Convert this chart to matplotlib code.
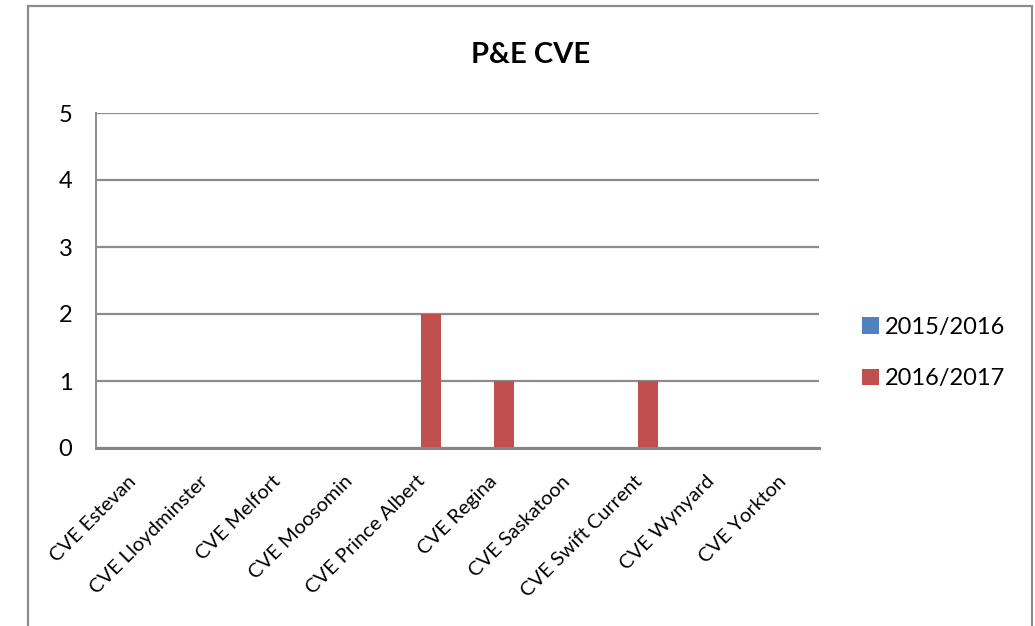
import matplotlib
matplotlib.use("Agg")
import matplotlib.pyplot as plt
import numpy as np
from matplotlib.patches import Patch, Rectangle

categories = ["CVE Estevan", "CVE Lloydminster", "CVE Melfort", "CVE Moosomin",
              "CVE Prince Albert", "CVE Regina", "CVE Saskatoon",
              "CVE Swift Current", "CVE Wynyard", "CVE Yorkton"]
series_names = ["2015/2016", "2016/2017"]
values_2015 = [0, 0, 0, 0, 0, 0, 0, 0, 0, 0]
values_2017 = [0, 0, 0, 0, 2, 1, 0, 1, 0, 0]
colors = ["#4F81BD", "#C0504D"]
title = "P&E CVE"

plt.rcParams['font.family'] = ['Lato', 'DejaVu Sans']

fig = plt.figure(figsize=(10.35, 6.26), dpi=100)
ax = fig.add_axes([96/1035, 1-448/626, (819-96)/1035, (448-113)/626])

x = np.arange(len(categories))
w = 0.276
ax.bar(x - w/2, values_2015, width=w, color=colors[0], zorder=3)
ax.bar(x + w/2, values_2017, width=w, color=colors[1], zorder=3)

ax.set_xlim(-0.5, len(categories) - 0.5)
ax.set_ylim(0, 5)
ax.set_yticks(range(0, 6))
ax.yaxis.grid(True, color="#8c8c8c", linewidth=1.6, zorder=0)
ax.set_axisbelow(True)
for s in ["top", "right"]:
    ax.spines[s].set_visible(False)
ax.spines["left"].set_color("#8c8c8c")
ax.spines["left"].set_linewidth(1.4)
ax.spines["bottom"].set_color("#868686")
ax.spines["bottom"].set_linewidth(2.2)
ax.spines["bottom"].set_zorder(4)

ax.tick_params(axis="y", length=0, pad=17, labelsize=17)
ax.tick_params(axis="x", length=0, pad=4, labelsize=14.5)
ax.set_xticks(x)
ax.set_xticklabels(categories, rotation=45, ha="right", va="top", rotation_mode="anchor")
for lbl in ax.get_xticklabels():
    lbl.set_transform(lbl.get_transform() + matplotlib.transforms.ScaledTranslation(-0.05, -0.19, fig.dpi_scale_trans))

fig.text(531/1035, 1-55/626, title, ha="center", va="center", fontsize=21, fontweight="bold")

handles = [Patch(facecolor=c, edgecolor="none") for c in colors]
fig.legend(handles, series_names, loc="center left", bbox_to_anchor=(841/1035, 1-353/626),
           frameon=False, fontsize=17, handlelength=0.7, handleheight=0.7,
           handletextpad=0.25, labelspacing=1.3)

fig.patches.append(Rectangle((28/1035, -0.05), (1032-28)/1035, 1.05 - 6/626,
                             transform=fig.transFigure, fill=False,
                             edgecolor="#8c8c8c", linewidth=1.6))

fig.savefig("out.png", dpi=100)
